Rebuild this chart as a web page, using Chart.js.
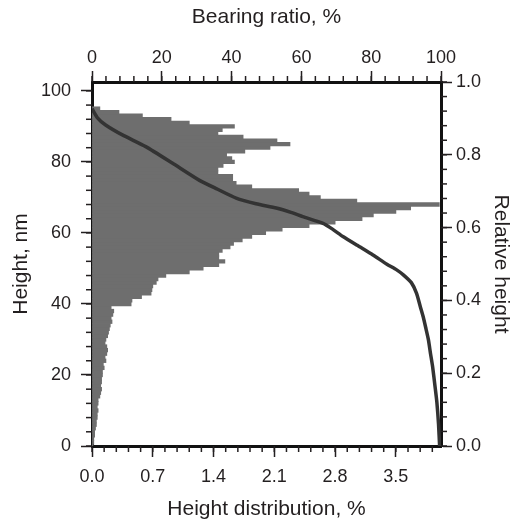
<!DOCTYPE html>
<html>
<head>
<meta charset="utf-8">
<script src="https://cdn.jsdelivr.net/npm/chart.js@4/dist/chart.umd.min.js"></script>
<style>
  html, body { margin: 0; padding: 0; background: #fff; }
  canvas { display: block; }
</style>
</head>
<body>
<canvas id="profileChart" width="522" height="525"></canvas>
<script>
// Height histogram: bin centres (nm) and share of points in each bin (%)
const binCenters = [
    0.5, 1.5, 2.5, 3.5, 4.5, 5.5, 6.5, 7.5, 8.5, 9.5,
    10.5, 11.5, 12.5, 13.5, 14.5, 15.5, 16.5, 17.5, 18.5, 19.5,
    20.5, 21.5, 22.5, 23.5, 24.5, 25.5, 26.5, 27.5, 28.5, 29.5,
    30.5, 31.5, 32.5, 33.5, 34.5, 35.5, 36.5, 37.5, 38.5, 39.5,
    40.5, 41.5, 42.5, 43.5, 44.5, 45.5, 46.5, 47.5, 48.5, 49.5,
    50.5, 51.5, 52.5, 53.5, 54.5, 55.5, 56.5, 57.5, 58.5, 59.5,
    60.5, 61.5, 62.5, 63.5, 64.5, 65.5, 66.5, 67.5, 68.5, 69.5,
    70.5, 71.5, 72.5, 73.5, 74.5, 75.5, 76.5, 77.5, 78.5, 79.5,
    80.5, 81.5, 82.5, 83.5, 84.5, 85.5, 86.5, 87.5, 88.5, 89.5,
    90.5, 91.5, 92.5, 93.5, 94.5, 95.5
];
const heightDist = [
    0.01, 0.02, 0.02, 0.03, 0.03, 0.04, 0.05, 0.05, 0.06, 0.06,
    0.07, 0.06, 0.07, 0.07, 0.09, 0.10, 0.11, 0.10, 0.11, 0.11,
    0.12, 0.12, 0.14, 0.13, 0.16, 0.15, 0.17, 0.18, 0.17, 0.15,
    0.16, 0.18, 0.19, 0.20, 0.21, 0.23, 0.22, 0.24, 0.25, 0.22,
    0.45, 0.46, 0.57, 0.68, 0.69, 0.70, 0.74, 0.76, 0.85, 1.12,
    1.28, 1.46, 1.53, 1.46, 1.46, 1.50, 1.59, 1.63, 1.73, 1.84,
    2.00, 2.19, 2.50, 2.80, 3.11, 3.24, 3.50, 3.67, 4.00, 3.05,
    2.63, 2.50, 2.38, 1.84, 1.66, 1.62, 1.62, 1.45, 1.45, 1.51,
    1.64, 1.61, 1.55, 1.76, 2.05, 2.28, 2.13, 1.74, 1.45, 1.50,
    1.64, 1.12, 0.91, 0.58, 0.31, 0.09
];

// Bearing (Abbott-Firestone) curve: ratio (%) vs height (nm)
const bearingRatio = [
    0, 1.5, 3.9, 8.7, 15.4, 23.1, 30.8, 36.0, 41.3, 47.0,
    52.8, 57.0, 60.4, 66.2, 69.0, 71.9, 76.0, 80.5, 84.5, 87.3,
    89.2, 91.5, 93.0, 94.0, 94.9, 95.7, 96.4, 97.0, 97.6, 98.3,
    98.8, 99.3, 99.6
];
const bearingHeight = [
    95.0, 92.5, 90.4, 87.6, 84.3, 79.6, 74.8, 72.3, 69.8, 68.2,
    67.0, 65.8, 64.6, 62.7, 61.0, 59.0, 56.5, 53.8, 51.2, 49.6,
    48.2, 46.0, 43.0, 39.5, 36.4, 33.0, 29.9, 26.0, 22.3, 16.7,
    12.5, 6.0, 0.0
];

// Tick labels
const heightTicks = [0, 20, 40, 60, 80, 100];
const relHeightTicks = [0, 0.2, 0.4, 0.6, 0.8, 1.0];
const bearingTicks = [0, 20, 40, 60, 80, 100];
const distTicks = [0, 0.7, 1.4, 2.1, 2.8, 3.5];

// Minor tick spacing per axis
const minorSteps = { yH: 4, yRel: 0.04, xBR: 4, xDist: 0.14 };

const INK = '#231f20';
Chart.defaults.font.family = "'Liberation Sans', Arial, sans-serif";
Chart.defaults.color = INK;

// Short unlabelled ticks between the labelled ones
const minorTicksPlugin = {
    id: 'minorTicks',
    afterDraw(chart) {
        const ctx = chart.ctx;
        ctx.save();
        ctx.strokeStyle = INK;
        ctx.lineWidth = 1.5;
        Object.keys(minorSteps).forEach(id => {
            const scale = chart.scales[id];
            if (!scale) return;
            const step = minorSteps[id];
            const n = Math.floor((scale.max - scale.min) / step + 1e-6);
            for (let i = 0; i <= n; i++) {
                const p = scale.getPixelForValue(scale.min + i * step);
                ctx.beginPath();
                if (scale.position === 'left') {
                    ctx.moveTo(scale.right, p); ctx.lineTo(scale.right - 6, p);
                } else if (scale.position === 'right') {
                    ctx.moveTo(scale.left, p); ctx.lineTo(scale.left + 6, p);
                } else if (scale.position === 'top') {
                    ctx.moveTo(p, scale.bottom); ctx.lineTo(p, scale.bottom - 6);
                } else {
                    ctx.moveTo(p, scale.top); ctx.lineTo(p, scale.top + 6);
                }
                ctx.stroke();
            }
        });
        ctx.restore();
    }
};

const tickGrid = { drawOnChartArea: false, offset: false, tickLength: 11, tickWidth: 1.5, tickColor: INK };
const axisBorder = { display: true, width: 3, color: '#111' };
const tickFont = { size: 18 };
const titleFont = { size: 21 };

const chart = new Chart(document.getElementById('profileChart'), {
    type: 'bar',
    data: {
        datasets: [
            {
                type: 'line',
                label: 'Bearing ratio',
                xAxisID: 'xBR',
                yAxisID: 'yH',
                data: bearingRatio.map((r, i) => ({ x: r, y: bearingHeight[i] })),
                borderColor: '#333333',
                borderWidth: 3.5,
                pointRadius: 0,
                tension: 0.2,
                fill: false,
                order: 1
            },
            {
                type: 'bar',
                label: 'Height distribution',
                indexAxis: 'y',
                xAxisID: 'xDist',
                yAxisID: 'yH',
                data: binCenters.map((h, i) => ({ x: heightDist[i], y: h })),
                backgroundColor: '#6e6e6e',
                borderWidth: 0,
                barPercentage: 1,
                categoryPercentage: 1,
                inflateAmount: 0.4,
                order: 2
            }
        ]
    },
    options: {
        responsive: false,
        animation: false,
        layout: { padding: 0 },
        plugins: {
            legend: { display: false },
            tooltip: { enabled: false }
        },
        scales: {
            xDist: {
                type: 'linear',
                position: 'bottom',
                offset: false,
                min: 0,
                max: 4.02,
                afterBuildTicks: s => { s.ticks = distTicks.map(v => ({ value: v })); },
                afterFit: s => { s.height = 79; },
                ticks: { font: tickFont, padding: 9, maxRotation: 0, autoSkip: false,
                         callback: v => Number(v).toFixed(1) },
                grid: tickGrid,
                border: axisBorder,
                title: { display: true, text: 'Height distribution, %', font: titleFont,
                         padding: { top: 0, bottom: 3 } },
                z: 1
            },
            xBR: {
                type: 'linear',
                position: 'top',
                offset: false,
                min: 0,
                max: 100,
                afterBuildTicks: s => { s.ticks = bearingTicks.map(v => ({ value: v })); },
                afterFit: s => { s.height = 82; },
                ticks: { font: tickFont, padding: 2, maxRotation: 0, autoSkip: false },
                grid: tickGrid,
                border: axisBorder,
                title: { display: true, text: 'Bearing ratio, %', font: titleFont,
                         padding: { top: 5, bottom: 0 } },
                z: 1
            },
            yH: {
                type: 'linear',
                position: 'left',
                offset: false,
                min: 0,
                max: 102.5,
                afterBuildTicks: s => { s.ticks = heightTicks.map(v => ({ value: v })); },
                afterFit: s => { s.width = 92; },
                ticks: { font: tickFont, padding: 10, autoSkip: false },
                grid: tickGrid,
                border: axisBorder,
                title: { display: true, text: 'Height, nm', font: titleFont,
                         padding: { top: 9, bottom: 0 } },
                z: 1
            },
            yRel: {
                type: 'linear',
                position: 'right',
                offset: false,
                min: 0,
                max: 1,
                afterBuildTicks: s => { s.ticks = relHeightTicks.map(v => ({ value: v })); },
                afterFit: s => { s.width = 81; },
                ticks: { font: tickFont, padding: 4, autoSkip: false,
                         callback: v => Number(v).toFixed(1) },
                grid: tickGrid,
                border: axisBorder,
                title: { display: true, text: 'Relative height', font: titleFont,
                         padding: { top: 9, bottom: 0 } },
                z: 1
            }
        }
    },
    plugins: [minorTicksPlugin]
});

// Histogram bins touch each other: make each bar exactly one bin tall on the height scale
const yScale = chart.scales.yH;
const binSpan = Math.abs(yScale.getPixelForValue(binCenters[1]) - yScale.getPixelForValue(binCenters[0]));
chart.data.datasets[1].barThickness = binSpan;
chart.update('none');
</script>
</body>
</html>
